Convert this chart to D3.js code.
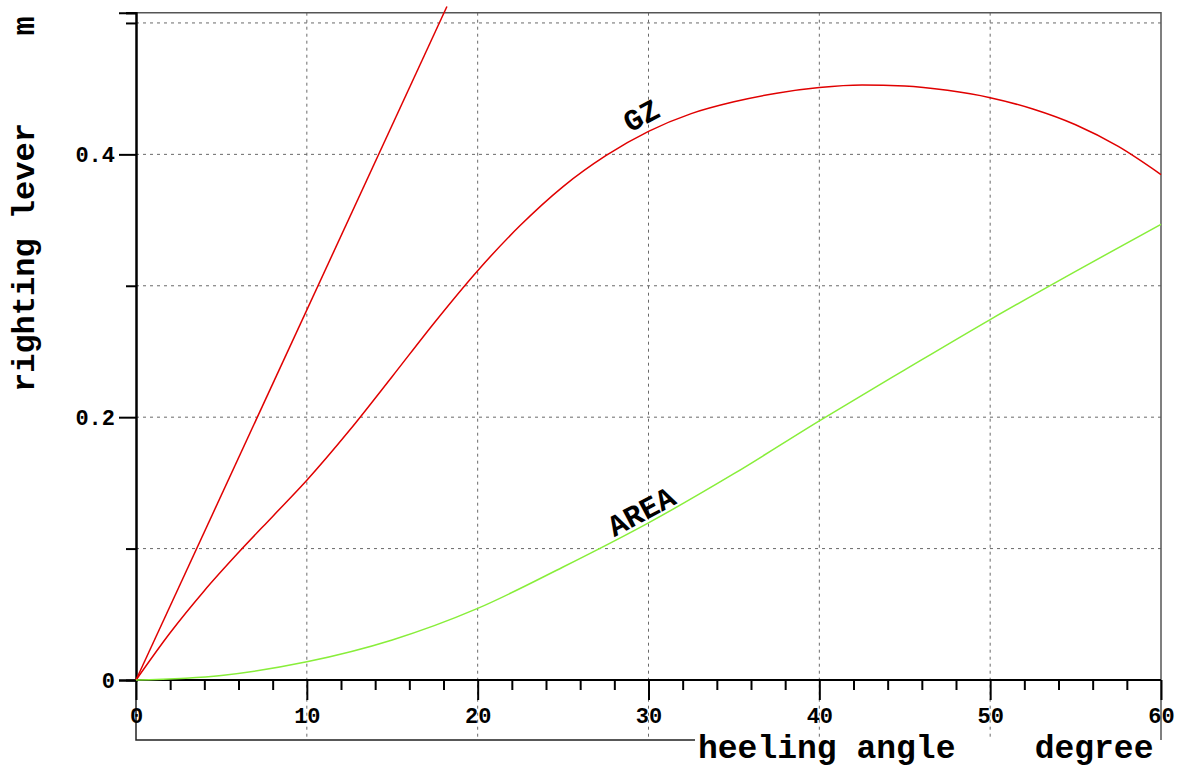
<!DOCTYPE html>
<html>
<head>
<meta charset="utf-8">
<script src="https://cdn.jsdelivr.net/npm/d3@7"></script>
<style>
  body { margin: 0; background: #fff; }
  text { font-family: "Liberation Mono", "Courier New", monospace; font-weight: bold; }
</style>
</head>
<body>
<div id="chart"></div>
<script>
// heeling angle (degree) and righting lever (m)
var gzAngles = [0, 2, 4, 6, 8, 10, 12.5, 15, 17.5, 20, 22.5, 25, 27.5, 30, 32.5, 35, 37.5, 40, 42.5, 45, 47.5, 50, 52.5, 55, 57.5, 60];
var gzValues = [0, 0.036, 0.068, 0.097, 0.1245, 0.152, 0.19, 0.231, 0.2725, 0.3115, 0.346, 0.3755, 0.399, 0.4175, 0.431, 0.44, 0.4465, 0.4508, 0.4527, 0.452, 0.4487, 0.4431, 0.4345, 0.4225, 0.406, 0.3846];

var areaAngles = [0, 5, 10, 15, 20, 25, 30, 35, 40, 45, 50, 55, 60];
var areaValues = [0, 0.0035, 0.0139, 0.0305, 0.0545, 0.086, 0.1196, 0.157, 0.1972, 0.236, 0.2743, 0.311, 0.3468];

// initial GM tangent
var tangentAngles = [0, 18.2];
var tangentValues = [0, 0.5125];

var xMajorTicks = [0, 10, 20, 30, 40, 50, 60];
var yMajorTicks = [0, 0.2, 0.4];
var yMinorTicks = [0.1, 0.3, 0.5];
var yGridTicks = [0.1, 0.2, 0.3, 0.4, 0.5];

var svgWidth = 1182;
var svgHeight = 767;

var margin = { top: 12.7, left: 136, right: 21, axis: 680, bottom: 740 };

var svg = d3.select("#chart")
  .append("svg")
  .attr("width", svgWidth)
  .attr("height", svgHeight);

var x = d3.scaleLinear()
  .domain([0, 60])
  .range([margin.left, svgWidth - margin.right]);

var y = d3.scaleLinear()
  .domain([0, 0.5078])
  .range([margin.axis, margin.top]);

var xMinorTicks = d3.range(0, 61, 2).filter(d => d % 10 !== 0);

// dotted grid
var grid = svg.append("g")
  .attr("stroke", "#6a6a6a")
  .attr("stroke-width", 1)
  .attr("stroke-dasharray", "3,4");

grid.selectAll(".hgrid")
  .data(yGridTicks)
  .enter()
  .append("line")
  .attr("x1", x(0))
  .attr("x2", x(60))
  .attr("y1", d => y(d))
  .attr("y2", d => y(d));

grid.selectAll(".vgrid")
  .data([10, 20, 30, 40, 50])
  .enter()
  .append("line")
  .attr("x1", d => x(d))
  .attr("x2", d => x(d))
  .attr("y1", margin.top)
  .attr("y2", margin.bottom);

// frame top / right
svg.append("path")
  .attr("d", `M${x(0) - 10},${margin.top}H${x(60)}V${margin.bottom}`)
  .attr("fill", "none")
  .attr("stroke", "#555")
  .attr("stroke-width", 1.5);

// frame below axis
svg.append("path")
  .attr("d", `M${x(0)},${margin.axis}V${margin.bottom}H695`)
  .attr("fill", "none")
  .attr("stroke", "#222")
  .attr("stroke-width", 1.5);

// x axis: minor ticks then major ticks with labels
var xMinor = svg.append("g")
  .attr("transform", `translate(0, ${margin.axis})`)
  .call(d3.axisBottom(x).tickValues(xMinorTicks).tickSize(10).tickFormat(""));

var xMajor = svg.append("g")
  .attr("transform", `translate(0, ${margin.axis})`)
  .call(d3.axisBottom(x).tickValues(xMajorTicks).tickSize(20).tickPadding(7).tickFormat(d3.format("d")));

[xMinor, xMajor].forEach(function(g) {
  g.select(".domain").remove();
  g.selectAll("line").attr("stroke", "#000").attr("stroke-width", 2);
});
xMajor.selectAll("text")
  .attr("fill", "#000")
  .style("font-size", "22px");

svg.append("line")
  .attr("x1", x(0))
  .attr("x2", x(60))
  .attr("y1", margin.axis)
  .attr("y2", margin.axis)
  .attr("stroke", "#000")
  .attr("stroke-width", 2);

// y axis
var yMinor = svg.append("g")
  .attr("transform", `translate(${margin.left}, 0)`)
  .call(d3.axisLeft(y).tickValues(yMinorTicks.concat([0.5078])).tickSize(10).tickFormat(""));

var yMajor = svg.append("g")
  .attr("transform", `translate(${margin.left}, 0)`)
  .call(d3.axisLeft(y).tickValues(yMajorTicks).tickSize(17).tickPadding(4)
    .tickFormat(d => d === 0 ? "0" : d3.format(".1f")(d)));

[yMinor, yMajor].forEach(function(g) {
  g.select(".domain").attr("stroke", "#000").attr("stroke-width", 2);
  g.selectAll("line").attr("stroke", "#000").attr("stroke-width", 2);
});
yMajor.selectAll("text")
  .attr("fill", "#000")
  .style("font-size", "22px");

// curves
var line = d3.line()
  .x(d => x(d[0]))
  .y(d => y(d[1]))
  .curve(d3.curveMonotoneX);

svg.append("path")
  .datum(d3.zip(tangentAngles, tangentValues))
  .attr("d", line)
  .attr("fill", "none")
  .attr("stroke", "#e00000")
  .attr("stroke-width", 1.5);

svg.append("path")
  .datum(d3.zip(gzAngles, gzValues))
  .attr("d", line)
  .attr("fill", "none")
  .attr("stroke", "#e00000")
  .attr("stroke-width", 1.5);

svg.append("path")
  .datum(d3.zip(areaAngles, areaValues))
  .attr("d", line)
  .attr("fill", "none")
  .attr("stroke", "#88ee3a")
  .attr("stroke-width", 1.5);

// curve labels
svg.append("text")
  .attr("transform", "translate(641, 115) rotate(-28)")
  .attr("text-anchor", "middle")
  .attr("dy", "0.35em")
  .style("font-size", "30px")
  .text("GZ");

svg.append("text")
  .attr("transform", "translate(641, 511) rotate(-28)")
  .attr("text-anchor", "middle")
  .attr("dy", "0.35em")
  .style("font-size", "30px")
  .text("AREA");

// axis titles
svg.append("text")
  .attr("x", 698)
  .attr("y", 758)
  .style("font-size", "33px")
  .style("white-space", "pre")
  .text("heeling angle    degree");

svg.append("text")
  .attr("transform", "translate(34, 392) rotate(-90)")
  .style("font-size", "32px")
  .text("righting lever");

svg.append("text")
  .attr("transform", "translate(34, 26) rotate(-90)")
  .attr("text-anchor", "middle")
  .style("font-size", "32px")
  .text("m");
</script>
</body>
</html>
